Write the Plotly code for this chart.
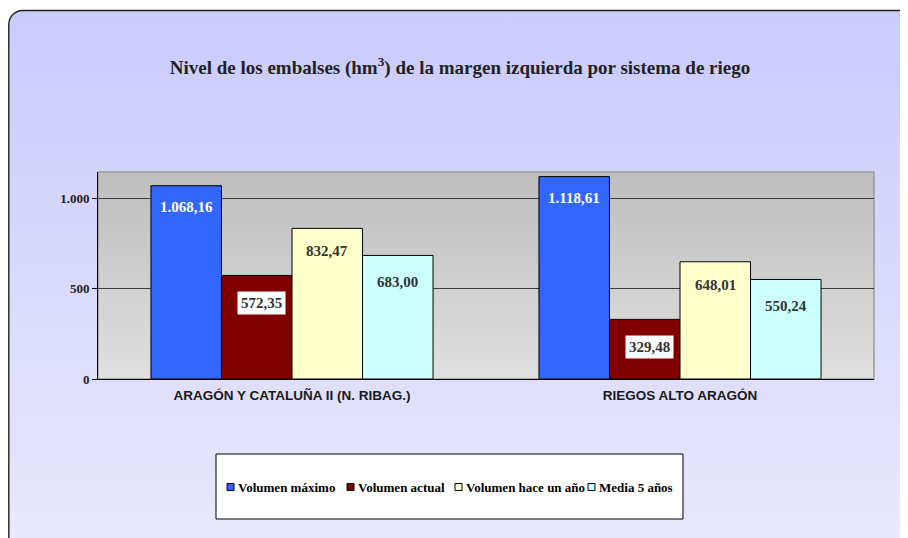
import base64
import plotly.graph_objects as go

# ---- data ----
categories = ["ARAGÓN Y CATALUÑA II (N. RIBAG.)", "RIEGOS ALTO ARAGÓN"]
series_names = ["Volumen máximo", "Volumen actual", "Volumen hace un año", "Media 5 años"]
volumen_maximo = [1068.16, 1118.61]
volumen_actual = [572.35, 329.48]
volumen_hace_un_ano = [832.47, 648.01]
media_5_anos = [683.00, 550.24]
y_tick_values = [0, 500, 1000]
title_text = "Nivel de los embalses (hm<sup>3</sup>) de la margen izquierda por sistema de riego"

series_values = [volumen_maximo, volumen_actual, volumen_hace_un_ano, media_5_anos]

# ---- style ----
OFF = 8                       # page body margin
W, H = 908 - OFF, 538 - OFF   # figure size
# plot area in page px, converted to figure px
L, R, T, B = 98 - OFF, 874 - OFF, 172 - OFF, 379 - OFF
colors = ["#3366FF", "#800000", "#FFFFCC", "#CCFFFF"]
label_colors = ["#FFFFFF", "#333333", "#333333", "#333333"]
label_bg = [None, "#FFFFFF", None, None]
label_shift = [-21, -28, -23, -27]
bargap = 0.273
serif = "Liberation Serif, Times New Roman, serif"
sans = "Liberation Sans, Arial, sans-serif"

pw, ph = R - L, B - T


def px_x(xpage):
    return (xpage - OFF - L) / pw


def px_y(ypage):
    return (B - (ypage - OFF)) / ph


fig = go.Figure()
for name, vals, col in zip(series_names, series_values, colors):
    fig.add_trace(go.Bar(
        name=name, x=categories, y=vals,
        marker=dict(color=col, line=dict(color="#000000", width=1)),
        showlegend=False, hoverinfo="x+y+name",
    ))

# value labels
n = len(series_names)
bw = (1 - bargap) / n
annotations = []
for k, vals in enumerate(series_values):
    for i, v in enumerate(vals):
        txt = f"{v:,.2f}".replace(",", "X").replace(".", ",").replace("X", ".")
        ann = dict(
            x=i + (k - (n - 1) / 2) * bw, y=v, xref="x", yref="y",
            text=txt, showarrow=False, yanchor="middle", xanchor="center",
            yshift=label_shift[k],
            font=dict(family=serif, size=15, color=label_colors[k], weight="bold"),
        )
        if label_bg[k]:
            ann.update(bgcolor=label_bg[k], borderpad=3, xshift=5)
        annotations.append(ann)

# manual legend (keys + text), inside a framed box
legend_starts = [227, 347, 455, 588]
legend_y = 487
shapes = [dict(
    type="rect", xref="paper", yref="paper", layer="below",
    x0=px_x(216), x1=px_x(683), y0=px_y(519), y1=px_y(454),
    fillcolor="#FFFFFF", line=dict(color="#000000", width=1),
)]
for name, col, xs in zip(series_names, colors, legend_starts):
    shapes.append(dict(
        type="rect", xref="paper", yref="paper", layer="above",
        x0=px_x(xs), x1=px_x(xs + 7), y0=px_y(legend_y + 3.5), y1=px_y(legend_y - 3.5),
        fillcolor=col, line=dict(color="#000000", width=1),
    ))
    annotations.append(dict(
        x=px_x(xs + 9), y=px_y(legend_y), xref="paper", yref="paper",
        text=name, showarrow=False, xanchor="left", yanchor="middle",
        font=dict(family=serif, size=13, color="#000000", weight="bold"),
    ))

# background: rounded panel with vertical gradient + gradient plot area
svg = f'''<svg xmlns="http://www.w3.org/2000/svg" width="{W}" height="{H}" viewBox="0 0 {W} {H}">
<defs>
<linearGradient id="bg" x1="0" y1="0" x2="0" y2="1">
<stop offset="0" stop-color="#CBCBFD"/><stop offset="1" stop-color="#EAEAFE"/></linearGradient>
<linearGradient id="pa" x1="0" y1="0" x2="0" y2="1">
<stop offset="0" stop-color="#BEBEBE"/><stop offset="1" stop-color="#E0E0E0"/></linearGradient>
</defs>
<rect x="0" y="0" width="{W}" height="{H}" fill="#FFFFFF"/>
<rect x="0.8" y="2.5" width="940" height="560" rx="14" ry="14" fill="url(#bg)" stroke="#222222" stroke-width="1.4"/>
<rect x="{L}" y="{T}" width="{pw}" height="{ph}" fill="url(#pa)" stroke="#9A9A9A" stroke-width="1.5"/>
</svg>'''
src = "data:image/svg+xml;base64," + base64.b64encode(svg.encode("utf-8")).decode("ascii")

fig.update_layout(
    width=W, height=H,
    margin=dict(l=L, r=W - R, t=T, b=H - B, pad=0),
    paper_bgcolor="#FFFFFF", plot_bgcolor="rgba(0,0,0,0)",
    barmode="group", bargap=bargap, bargroupgap=0,
    separators=",.",
    showlegend=False,
    title=dict(
        text=title_text, x=(460 - OFF) / W, xref="container", xanchor="center",
        y=1 - (67 - OFF) / H, yref="container", yanchor="middle",
        font=dict(family=serif, size=19, color="#222222", weight="bold"),
    ),
    images=[dict(
        source=src, xref="paper", yref="paper",
        x=-L / pw, y=1 + T / ph, sizex=W / pw, sizey=H / ph,
        xanchor="left", yanchor="top", sizing="stretch", layer="below",
    )],
    shapes=shapes,
    annotations=annotations,
    xaxis=dict(
        type="category", showgrid=False, showline=True, linecolor="#000000", linewidth=1,
        ticks="", tickfont=dict(family=sans, size=13.5, color="#1A1A1A", weight="bold"),
        ticklabelstandoff=4,
    ),
    yaxis=dict(
        range=[0, 1144], tickvals=y_tick_values, tickformat=",d",
        showgrid=True, gridcolor="#3C3C3C", gridwidth=1.3,
        showline=True, linecolor="#000000", linewidth=1,
        ticks="outside", ticklen=5, tickcolor="#000000",
        tickfont=dict(family=serif, size=13, color="#222222", weight="bold"),
        zeroline=False,
    ),
)

fig.write_html("out.html")
